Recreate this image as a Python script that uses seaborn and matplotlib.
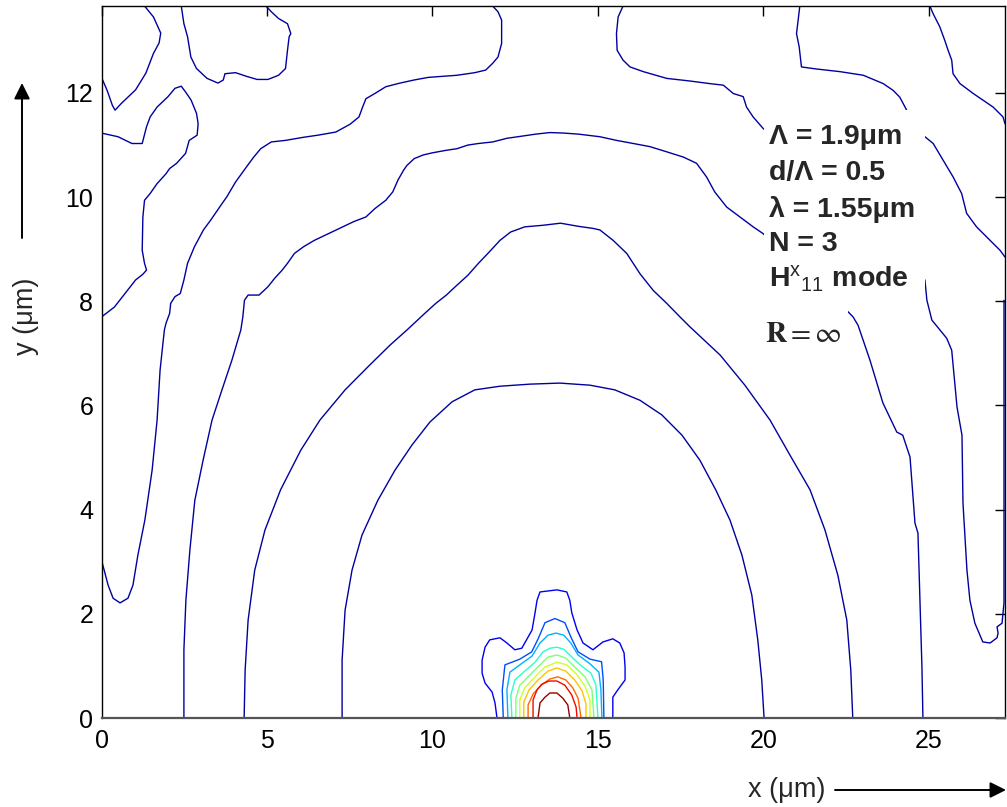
import numpy as np
import pandas as pd
import matplotlib
matplotlib.use("Agg")
import matplotlib.pyplot as plt
import seaborn as sns
from matplotlib.patches import Rectangle

sns.set_theme(style="white")
plt.rcParams["font.family"] = ["Liberation Sans", "DejaVu Sans"]
plt.rcParams["mathtext.fontset"] = "custom"
plt.rcParams["mathtext.rm"] = "Liberation Sans"
plt.rcParams["mathtext.default"] = "rm"

# ---------------- data (x and y in micrometres) -------------
x_ticks = [0, 5, 10, 15, 20, 25]
y_ticks = [0, 2, 4, 6, 8, 10, 12]

# low-level (dark blue) contours
corner_x = [1.30, 1.57, 1.79, 1.74, 1.57, 1.34, 1.03, 0.60, 0.41, 0.33, 0.17, 0.00]
corner_y = [13.67, 13.46, 13.15, 12.96, 12.76, 12.38, 12.06, 11.80, 11.67, 11.76, 12.05, 12.30]

u_x = [2.41, 2.49, 2.60, 2.70, 2.87, 3.19, 3.52, 3.68, 3.73, 4.05, 4.38, 4.70, 5.03, 5.35,
       5.56, 5.62, 5.67, 5.72, 5.62, 5.35, 5.13, 4.97]
u_y = [13.67, 13.33, 13.08, 12.69, 12.47, 12.28, 12.19, 12.25, 12.37, 12.39, 12.32, 12.26,
       12.26, 12.34, 12.47, 12.82, 13.08, 13.14, 13.33, 13.43, 13.56, 13.67]

peak_x = [0.00, 0.50, 0.92, 1.23, 1.36, 1.47, 1.68, 2.01, 2.22, 2.41, 2.54, 2.71, 2.87, 2.92,
          2.89, 2.65, 2.54, 2.27, 2.06, 1.95, 1.68, 1.47, 1.30, 1.25, 1.23, 1.30, 1.36, 1.25,
          1.03, 0.71, 0.39, 0.00]
peak_y = [11.23, 11.16, 11.03, 11.03, 11.35, 11.54, 11.73, 11.93, 12.09, 12.13, 12.02, 11.86,
          11.61, 11.41, 11.19, 11.09, 10.84, 10.65, 10.55, 10.45, 10.26, 10.07, 9.94, 9.62,
          8.98, 8.73, 8.60, 8.52, 8.41, 8.15, 7.89, 7.70]

neckl_x = [11.82, 11.98, 12.09, 12.09, 11.98, 11.82, 11.61, 11.28, 10.74, 9.88, 9.45, 9.02,
           8.59, 8.26, 7.99, 7.89, 7.78, 7.51, 7.08, 6.54, 6.11, 5.56, 5.13, 4.81, 4.60, 4.38,
           4.05, 3.79, 3.57, 3.30, 3.08, 2.81, 2.60, 2.49, 2.38, 2.22, 2.09, 2.06, 1.95, 1.90,
           1.77, 1.68, 1.53, 1.31, 1.10, 0.95, 0.80, 0.56, 0.35, 0.20, 0.08, 0.00]
neckl_y = [13.67, 13.56, 13.40, 12.95, 12.69, 12.57, 12.44, 12.39, 12.34, 12.30, 12.25, 12.19,
           12.12, 11.99, 11.89, 11.73, 11.54, 11.40, 11.25, 11.19, 11.15, 11.09, 11.06, 10.93,
           10.77, 10.58, 10.29, 10.01, 9.81, 9.56, 9.37, 9.05, 8.73, 8.41, 8.15, 8.09, 7.96,
           7.77, 7.58, 7.45, 6.68, 5.72, 4.76, 3.80, 3.13, 2.55, 2.30, 2.21, 2.30, 2.55, 2.84,
           3.03]

archc_x = [2.49, 2.49, 2.55, 2.67, 2.82, 3.07, 3.34, 3.64, 3.94, 4.21, 4.27, 4.32, 4.43, 4.76,
           5.03, 5.23, 5.46, 5.62, 5.83, 6.11, 6.43, 6.86, 7.29, 7.62, 7.99, 8.26, 8.59, 8.80,
           8.96, 9.13, 9.23, 9.45, 9.72, 9.99, 10.42, 10.74, 11.07, 11.39, 11.82, 12.25, 12.69,
           13.12, 13.55, 13.98, 14.41, 15.06, 15.56, 16.07, 16.57, 17.08, 17.58, 17.98, 18.28,
           18.53, 18.89, 19.29, 19.69, 19.99, 21.10, 22.01, 22.51, 22.71, 22.86, 23.22, 23.61,
           24.03, 24.21, 24.43, 24.58, 24.67, 24.73, 24.79, 24.82]
archc_y = [0.00, 1.31, 2.26, 3.22, 4.18, 4.95, 5.72, 6.30, 6.87, 7.45, 7.70, 8.02, 8.12, 8.12,
           8.28, 8.44, 8.60, 8.73, 8.92, 9.05, 9.17, 9.30, 9.43, 9.53, 9.62, 9.78, 9.94, 10.10,
           10.33, 10.52, 10.61, 10.74, 10.81, 10.85, 10.90, 10.93, 11.00, 11.03, 11.06, 11.13,
           11.17, 11.21, 11.24, 11.23, 11.21, 11.16, 11.09, 11.03, 10.97, 10.87, 10.77, 10.65,
           10.39, 10.10, 9.81, 9.62, 9.43, 9.30, 8.60, 8.12, 7.83, 7.70, 7.54, 6.87, 6.05,
           5.49, 5.43, 5.01, 3.74, 3.55, 2.26, 0.98, 0.00]

archb_x = [4.31, 4.34, 4.43, 4.63, 4.94, 5.41, 6.02, 6.60, 7.36, 8.11, 8.72, 9.23, 9.45, 9.77,
           10.10, 10.42, 10.74, 11.07, 11.39, 11.72, 12.04, 12.36, 12.79, 13.34, 13.87, 14.41,
           14.85, 15.06, 15.46, 15.87, 16.27, 16.67, 17.08, 17.48, 17.78, 18.69, 19.44, 20.20,
           20.80, 21.41, 21.86, 22.25, 22.52, 22.64, 22.70]
archb_y = [0.00, 0.92, 1.88, 2.84, 3.61, 4.38, 5.14, 5.72, 6.30, 6.78, 7.16, 7.45, 7.58, 7.77,
           7.96, 8.12, 8.31, 8.50, 8.73, 8.95, 9.17, 9.33, 9.43, 9.46, 9.50, 9.44, 9.40, 9.37,
           9.17, 8.92, 8.53, 8.21, 7.96, 7.70, 7.51, 6.97, 6.39, 5.72, 5.05, 4.38, 3.61, 2.74,
           1.88, 0.92, 0.00]

archa_x = [7.27, 7.27, 7.36, 7.57, 7.87, 8.35, 8.87, 9.38, 9.92, 10.59, 11.28, 12.04, 12.95,
           13.85, 14.76, 15.51, 16.27, 16.93, 17.54, 18.08, 18.56, 18.99, 19.35, 19.65, 19.83,
           19.95, 20.02]
archa_y = [0.00, 1.11, 2.07, 2.84, 3.51, 4.18, 4.76, 5.24, 5.68, 6.07, 6.30, 6.37, 6.41, 6.43,
           6.39, 6.30, 6.10, 5.82, 5.43, 4.95, 4.38, 3.80, 3.13, 2.36, 1.50, 0.73, 0.00]

neckr_x = [15.76, 15.61, 15.56, 15.58, 15.76, 15.97, 16.37, 17.08, 17.78, 18.38, 18.79, 19.09,
           19.39, 19.49, 19.69, 19.99, 22.46, 24.88, 24.94, 25.09, 25.54, 25.69, 25.85, 26.00,
           26.03, 26.15, 26.24, 26.39, 26.63, 26.85, 27.06, 27.09, 27.06, 27.21, 27.27, 27.27,
           27.27, 27.27]
neckr_y = [13.67, 13.46, 13.14, 12.82, 12.63, 12.50, 12.41, 12.28, 12.23, 12.18, 12.15, 11.99,
           11.93, 11.73, 11.54, 11.32, 9.94, 8.41, 8.02, 7.64, 7.29, 7.06, 5.97, 5.43, 4.13,
           2.84, 2.26, 1.82, 1.46, 1.44, 1.54, 1.63, 1.75, 1.82, 2.21, 3.03, 5.14, 8.02]

r2_x = [21.10, 21.05, 21.00, 21.08, 21.15, 21.61, 22.31, 23.02, 23.62, 23.92, 24.12, 24.33,
        24.58, 24.88, 25.13, 25.43, 25.73, 25.99, 26.14, 26.44, 26.85, 27.15, 27.30]
r2_y = [13.67, 13.40, 13.14, 12.89, 12.50, 12.46, 12.41, 12.34, 12.18, 12.05, 11.92, 11.67,
        11.44, 11.16, 11.03, 10.71, 10.39, 10.07, 9.69, 9.43, 9.17, 8.98, 8.85]

topr_x = [25.03, 25.13, 25.33, 25.48, 25.58, 25.69, 25.73, 25.94, 26.34, 26.64, 26.94, 27.24,
          27.30]
topr_y = [13.67, 13.52, 13.27, 13.01, 12.82, 12.63, 12.37, 12.18, 11.99, 11.86, 11.73, 11.54,
          11.41]

# core contours (jet coloured)
l1_x = [11.95, 11.89, 11.80, 11.59, 11.50, 11.50, 11.59, 11.73, 12.04, 12.25, 12.49, 12.70,
        13.01, 13.10, 13.16, 13.25, 13.76, 14.06, 14.15, 14.21, 14.37, 14.55, 14.85, 15.15,
        15.45, 15.66, 15.79, 15.82, 15.82, 15.60, 15.45, 15.45]
l1_y = [0.00, 0.29, 0.50, 0.67, 0.86, 1.11, 1.36, 1.50, 1.54, 1.44, 1.31, 1.34, 1.69, 2.02,
        2.26, 2.42, 2.46, 2.42, 2.26, 2.02, 1.69, 1.44, 1.31, 1.46, 1.52, 1.44, 1.25, 0.98,
        0.73, 0.54, 0.40, 0.00]
l2_x = [12.14, 12.11, 12.19, 12.64, 13.00, 13.20, 13.40, 13.70, 14.00, 14.20, 14.40, 14.76,
        15.11, 15.16, 15.18]
l2_y = [0.00, 0.54, 1.02, 1.13, 1.27, 1.53, 1.83, 1.91, 1.83, 1.53, 1.27, 1.13, 1.08, 0.73, 0.00]
l3_x = [12.28, 12.25, 12.34, 12.64, 13.01, 13.25, 13.49, 13.73, 13.97, 14.18, 14.40, 14.76,
        15.03, 15.09, 15.12]
l3_y = [0.00, 0.54, 0.88, 1.02, 1.19, 1.44, 1.59, 1.63, 1.59, 1.44, 1.21, 1.04, 0.88, 0.54, 0.00]
l4_x = [12.40, 12.37, 12.49, 12.79, 13.10, 13.34, 13.55, 13.76, 13.97, 14.18, 14.46, 14.79,
        14.94, 15.00]
l4_y = [0.00, 0.44, 0.73, 0.90, 1.07, 1.27, 1.34, 1.36, 1.32, 1.19, 1.02, 0.86, 0.63, 0.00]
l5_x = [12.52, 12.52, 12.64, 12.95, 13.25, 13.49, 13.76, 14.03, 14.30, 14.61, 14.82, 14.88]
l5_y = [0.00, 0.38, 0.63, 0.83, 1.02, 1.17, 1.21, 1.15, 0.98, 0.79, 0.54, 0.00]
l6_x = [12.64, 12.64, 12.79, 13.10, 13.40, 13.76, 14.06, 14.37, 14.61, 14.76, 14.76]
l6_y = [0.00, 0.35, 0.58, 0.79, 0.98, 1.07, 1.02, 0.83, 0.61, 0.35, 0.00]
l7_x = [12.76, 12.76, 12.92, 13.19, 13.49, 13.76, 14.03, 14.30, 14.52, 14.64, 14.64]
l7_y = [0.00, 0.31, 0.54, 0.73, 0.90, 0.96, 0.90, 0.73, 0.52, 0.27, 0.00]
l8_x = [12.89, 12.89, 13.04, 13.28, 13.55, 13.79, 14.03, 14.24, 14.40, 14.49]
l8_y = [0.00, 0.25, 0.46, 0.63, 0.75, 0.79, 0.73, 0.58, 0.38, 0.00]
l9_x = [13.04, 13.04, 13.16, 13.31, 13.52, 13.76, 14.00, 14.21, 14.34, 14.37]
l9_y = [0.00, 0.35, 0.54, 0.65, 0.71, 0.71, 0.63, 0.44, 0.21, 0.00]
l10_x = [13.19, 13.25, 13.40, 13.55, 13.76, 13.94, 14.09, 14.15]
l10_y = [0.00, 0.29, 0.40, 0.48, 0.48, 0.38, 0.25, 0.00]

# contour level (normalised field value) of each line
contour_levels = {
    "corner": 0.03, "u": 0.03, "peak": 0.03, "neckl": 0.03, "archc": 0.03, "archb": 0.03,
    "archa": 0.03, "neckr": 0.03, "r2": 0.03, "topr": 0.03,
    "l1": 0.1, "l2": 0.2, "l3": 0.3, "l4": 0.4, "l5": 0.5, "l6": 0.6, "l7": 0.7,
    "l8": 0.8, "l9": 0.9, "l10": 0.98,
}
contour_points = {
    "corner": (corner_x, corner_y), "u": (u_x, u_y), "peak": (peak_x, peak_y),
    "neckl": (neckl_x, neckl_y), "archc": (archc_x, archc_y), "archb": (archb_x, archb_y),
    "archa": (archa_x, archa_y), "neckr": (neckr_x, neckr_y), "r2": (r2_x, r2_y),
    "topr": (topr_x, topr_y),
    "l1": (l1_x, l1_y), "l2": (l2_x, l2_y), "l3": (l3_x, l3_y), "l4": (l4_x, l4_y),
    "l5": (l5_x, l5_y), "l6": (l6_x, l6_y), "l7": (l7_x, l7_y), "l8": (l8_x, l8_y),
    "l9": (l9_x, l9_y), "l10": (l10_x, l10_y),
}

param_lines = ["\u039b = 1.9\u03bcm", "d/\u039b = 0.5", "\u03bb = 1.55\u03bcm", "N = 3",
               "H$^{\\mathrm{x}}$$_{\\mathrm{11}}$ mode"]

# ---------------- build long table ----------------
frames = []
for name, (xs, ys) in contour_points.items():
    frames.append(pd.DataFrame({"x": xs, "y": ys, "contour": name,
                                "level": contour_levels[name]}))
df = pd.concat(frames, ignore_index=True)

W, H = 1007, 807
fig = plt.figure(figsize=(W / 100, H / 100), dpi=100)
ax = fig.add_axes([101.5 / W, 89 / H, 903.5 / W, 712 / H])

sns.lineplot(data=df, x="x", y="y", hue="level", units="contour", estimator=None,
             sort=False, palette=matplotlib.colormaps["jet"], hue_norm=(0, 1), legend=False,
             linewidth=1.0, ax=ax, zorder=2)

ax.set_xlim(0, 27.30)
ax.set_ylim(0, 13.67)
ax.set_xticks(x_ticks)
ax.set_yticks(y_ticks)
ax.set_xlabel("")
ax.set_ylabel("")
ax.tick_params(direction="in", length=7, width=1, top=True, right=True,
               labelsize=18, colors="black")
ax.tick_params(axis="x", pad=8)
ax.tick_params(axis="y", pad=6)
for s in ax.spines.values():
    s.set_color("black")
    s.set_linewidth(1.0)
ax.spines["bottom"].set_color("#555555")
ax.spines["bottom"].set_linewidth(1.6)

# white boxes behind the annotation texts
ax.add_patch(Rectangle((20.02, 8.10), 4.86, 3.57, facecolor="white", edgecolor="none", zorder=3))
ax.add_patch(Rectangle((19.95, 6.97), 2.60, 1.20, facecolor="white", edgecolor="none", zorder=3))

line_base = [144, 180, 217, 251, 287]
for s, py in zip(param_lines, line_base):
    fig.text(769 / W, 1 - py / H, s, fontsize=20.5, fontweight="bold",
             ha="left", va="baseline", zorder=5)
fig.text(765 / W, 1 - 342 / H, r"$\mathbf{R} = \infty$", math_fontfamily="stix",
         fontsize=21, ha="left", va="baseline", zorder=5)

# axis labels with arrows
fig.text(26 / W, 1 - 316 / H, "y (\u03bcm)", rotation=90, fontsize=19.5,
         ha="center", va="center")
fig.text(787 / W, 1 - 790 / H, "x (\u03bcm)", fontsize=19.5, ha="center", va="center")
arrow = dict(arrowstyle="-|>", color="black", lw=1.4, mutation_scale=24,
             shrinkA=0, shrinkB=0)
ax.annotate("", xy=(22 / W, 1 - 83 / H), xytext=(22 / W, 1 - 238 / H),
            xycoords="figure fraction", textcoords="figure fraction", arrowprops=arrow)
ax.annotate("", xy=(1006 / W, 1 - 790 / H), xytext=(835 / W, 1 - 790 / H),
            xycoords="figure fraction", textcoords="figure fraction", arrowprops=arrow)

fig.savefig("out.png", dpi=100)
